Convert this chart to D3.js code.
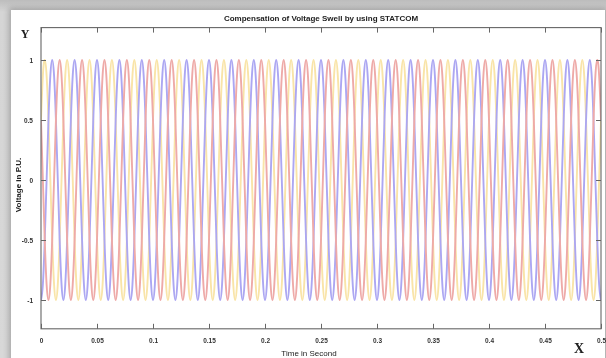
<!DOCTYPE html>
<html>
<head>
<meta charset="utf-8">
<script src="https://cdn.jsdelivr.net/npm/d3@7"></script>
<style>
  html, body { margin: 0; padding: 0; }
  body {
    width: 606px; height: 358px; overflow: hidden;
    background: linear-gradient(#bdbdbd, #d6d6d6 12px, #d9d9d9);
    position: relative;
  }
  #panel {
    position: absolute; left: 11px; top: 10px; width: 594px; height: 360px;
    background: #fff;
    box-shadow: 0 0 6px 2px rgba(120,120,120,0.55);
  }
  svg { position: absolute; left: 0; top: 0; filter: blur(0.45px); }
</style>
</head>
<body>
<div id="panel"></div>
<svg id="chart" width="606" height="358"></svg>
<script>
// one period (12 samples, 30 deg apart), p.u.
const cyclePU = [0, 0.5, 0.87, 1, 0.87, 0.5, 0, -0.5, -0.87, -1, -0.87, -0.5];
const period = 0.02;           // s, 50 Hz
const tEnd = 0.5;
const phaseNames = ["Va", "Vb", "Vc"];
const phaseShift = [1, 9, 5];  // samples offset of each phase in cyclePU
const phaseColors = ["#f9e4a8", "#aca7f2", "#eeaaa8"];
const xTicks = [0, 0.05, 0.1, 0.15, 0.2, 0.25, 0.3, 0.35, 0.4, 0.45, 0.5];
const xTickLabels = ["0", "0.05", "0.1", "0.15", "0.2", "0.25", "0.3", "0.35", "0.4", "0.45", "0.5"];
const yTicks = [-1, -0.5, 0, 0.5, 1];
const yTickLabels = ["-1", "-0.5", "0", "0.5", "1"];
const yLimits = [-1.24, 1.27];

const svg = d3.select("#chart");

const x = d3.scaleLinear().domain([0, tEnd]).range([41, 601]);
const y = d3.scaleLinear().domain([-1, 1]).range([300, 60]);

const boxL = x(0), boxR = x(tEnd), boxT = y(yLimits[1]), boxB = y(yLimits[0]);

// build each phase from the sampled cycle
const step = period / cyclePU.length;
const nSamples = Math.round(tEnd / step);
const series = phaseNames.map((name, k) => {
  const pts = [];
  for (let i = 0; i <= nSamples; i++) {
    pts.push({ t: i * step, v: cyclePU[(i + phaseShift[k]) % cyclePU.length] });
  }
  return { name, color: phaseColors[k], pts };
});

svg.append("defs").append("clipPath").attr("id", "clip")
  .append("rect").attr("x", boxL).attr("y", boxT)
  .attr("width", boxR - boxL).attr("height", boxB - boxT);

const line = d3.line()
  .x(d => x(d.t))
  .y(d => y(d.v))
  .curve(d3.curveNatural);

svg.append("g").attr("clip-path", "url(#clip)")
  .selectAll("path")
  .data(series)
  .enter()
  .append("path")
    .attr("d", d => line(d.pts))
    .attr("fill", "none")
    .attr("stroke", d => d.color)
    .attr("stroke-width", 1.9);

// axes box, MATLAB style ticks pointing in
const axisColor = "#666";
svg.append("rect")
  .attr("x", boxL).attr("y", boxT)
  .attr("width", boxR - boxL).attr("height", boxB - boxT)
  .attr("fill", "none").attr("stroke", axisColor).attr("stroke-width", 1.1);

const xb = d3.axisBottom(x).tickValues(xTicks).tickFormat((d, i) => xTickLabels[i])
  .tickSizeInner(-5).tickSizeOuter(0).tickPadding(10);
const xt = d3.axisTop(x).tickValues(xTicks).tickFormat("")
  .tickSizeInner(-5).tickSizeOuter(0);
const yl = d3.axisLeft(y).tickValues(yTicks).tickFormat((d, i) => yTickLabels[i])
  .tickSizeInner(-5).tickSizeOuter(0).tickPadding(8);
const yr = d3.axisRight(y).tickValues(yTicks).tickFormat("")
  .tickSizeInner(-5).tickSizeOuter(0);

function styleAxis(g) {
  g.select(".domain").remove();
  g.selectAll("line").attr("stroke", axisColor);
  g.selectAll("text").attr("fill", "#333")
    .style("font-family", "Liberation Sans, Arial, sans-serif")
    .style("font-size", "6.5px").style("font-weight", "bold");
}

svg.append("g").attr("transform", `translate(0,${boxB})`).call(xb).call(styleAxis);
svg.append("g").attr("transform", `translate(0,${boxT})`).call(xt).call(styleAxis);
svg.append("g").attr("transform", `translate(${boxL},0)`).call(yl).call(styleAxis);
svg.append("g").attr("transform", `translate(${boxR},0)`).call(yr).call(styleAxis);

// texts
svg.append("text")
  .attr("x", 321).attr("y", 21)
  .attr("text-anchor", "middle")
  .style("font-family", "Liberation Sans, Arial, sans-serif")
  .style("font-size", "8px").style("font-weight", "bold")
  .attr("fill", "#222")
  .text("Compensation of Voltage Swell by using STATCOM");

svg.append("text")
  .attr("x", 309).attr("y", 356)
  .attr("text-anchor", "middle")
  .style("font-family", "Liberation Sans, Arial, sans-serif")
  .style("font-size", "8px")
  .attr("fill", "#222")
  .text("Time in Second");

svg.append("text")
  .attr("transform", "translate(21,185) rotate(-90)")
  .attr("text-anchor", "middle")
  .style("font-family", "Liberation Sans, Arial, sans-serif")
  .style("font-size", "8px").style("font-weight", "bold")
  .attr("fill", "#222")
  .text("Voltage in P.U.");

svg.append("text")
  .attr("x", 25).attr("y", 38)
  .attr("text-anchor", "middle")
  .style("font-family", "Liberation Serif, Times New Roman, serif")
  .style("font-size", "12px").style("font-weight", "bold")
  .attr("fill", "#222")
  .text("Y");

svg.append("text")
  .attr("x", 579).attr("y", 353)
  .attr("text-anchor", "middle")
  .style("font-family", "Liberation Serif, Times New Roman, serif")
  .style("font-size", "14px").style("font-weight", "bold")
  .attr("fill", "#222")
  .text("X");
</script>
</body>
</html>
